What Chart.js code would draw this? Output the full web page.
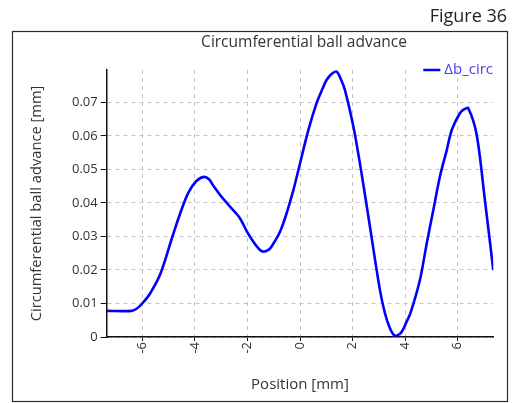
<!DOCTYPE html>
<html>
<head>
<meta charset="utf-8">
<style>
  html, body { margin: 0; padding: 0; background: #ffffff; }
  #wrap { position: relative; width: 523px; height: 403px; }
</style>
<script src="https://cdn.jsdelivr.net/npm/chart.js@4/dist/chart.umd.min.js"></script>
</head>
<body>
<div id="wrap"><canvas id="c" width="523" height="403"></canvas></div>
<script>
// Position along the raceway [mm]
const positions = [
  -7.35, -6.40, -6.20, -6.00, -5.70, -5.30, -4.85, -4.55, -4.25, -3.95,
  -3.65, -3.45, -3.30, -3.00, -2.66, -2.28, -2.00, -1.78, -1.55, -1.40,
  -1.20, -1.08, -0.76, -0.51, -0.25, 0.00, 0.32, 0.63, 0.85, 1.01,
  1.20, 1.39, 1.55, 1.71, 2.03, 2.34, 2.66, 3.04, 3.23, 3.40,
  3.57, 3.70, 3.87, 4.05, 4.20, 4.56, 4.82, 5.07, 5.32, 5.58,
  5.77, 6.08, 6.25, 6.40, 6.72, 7.03, 7.35
];
// Circumferential ball advance Δb_circ [mm]
const advance = [
  0.0078, 0.0078, 0.0085, 0.0100, 0.0130, 0.0190, 0.0300, 0.0370, 0.0430, 0.0465,
  0.0478, 0.0470, 0.0452, 0.0420, 0.0389, 0.0354, 0.0312, 0.0285, 0.0262, 0.0255,
  0.0260, 0.0270, 0.0314, 0.0369, 0.0439, 0.0518, 0.0618, 0.0698, 0.0740, 0.0767,
  0.0785, 0.0792, 0.0770, 0.0737, 0.0628, 0.0489, 0.0329, 0.0140, 0.0071, 0.0030,
  0.0006, 0.0005, 0.0016, 0.0045, 0.0071, 0.0170, 0.0280, 0.0379, 0.0479, 0.0558,
  0.0618, 0.0668, 0.0680, 0.0683, 0.0603, 0.0409, 0.0200
];
const seriesName = 'Δb_circ';
const chartTitle = 'Circumferential ball advance';
const xTitle = 'Position [mm]';
const yTitle = 'Circumferential ball advance [mm]';
const figureLabel = 'Figure 36';

const FONT = '"Open Sans", "DejaVu Sans", sans-serif';
const TEXT = '#333333';
const GRID = '#c4c4c4';

// Frame, figure caption, plot title and in-plot legend
const decorations = {
  id: 'decorations',
  beforeDraw(chart) {
    const ctx = chart.ctx;
    const area = chart.chartArea;
    ctx.save();
    ctx.fillStyle = '#ffffff';
    ctx.fillRect(0, 0, chart.width, chart.height);
    ctx.strokeStyle = '#2a2a2a';
    ctx.lineWidth = 1.2;
    ctx.strokeRect(12.5, 31.5, 495, 370);
    ctx.fillStyle = '#222222';
    ctx.font = '18px ' + FONT;
    ctx.textAlign = 'right';
    ctx.textBaseline = 'alphabetic';
    ctx.fillText(figureLabel, 507, 22);
    ctx.fillStyle = TEXT;
    ctx.font = '15.5px ' + FONT;
    ctx.textAlign = 'center';
    ctx.textBaseline = 'middle';
    ctx.fillText(chartTitle, (area.left + area.right) / 2 + 4, 43);
    ctx.restore();
  },
  afterDraw(chart) {
    const ctx = chart.ctx;
    const area = chart.chartArea;
    const ds = chart.data.datasets[0];
    ctx.save();
    ctx.font = '15px ' + FONT;
    const tx = area.right - 49;
    const ly = area.top;
    ctx.strokeStyle = ds.borderColor;
    ctx.lineWidth = 2.5;
    ctx.beginPath();
    ctx.moveTo(tx - 21, ly);
    ctx.lineTo(tx - 4, ly);
    ctx.stroke();
    ctx.fillStyle = '#4a3cf5';
    ctx.textAlign = 'left';
    ctx.textBaseline = 'middle';
    ctx.fillText(ds.label, tx, ly);
    ctx.restore();
  }
};

new Chart(document.getElementById('c'), {
  type: 'line',
  data: {
    datasets: [{
      label: seriesName,
      data: positions.map((x, i) => ({ x: x, y: advance[i] })),
      borderColor: '#0000ff',
      borderWidth: 2.6,
      pointRadius: 0,
      tension: 0.3,
      fill: false
    }]
  },
  options: {
    responsive: false,
    animation: false,
    devicePixelRatio: 1,
    layout: { padding: { left: 13, right: 29.7, top: 70, bottom: 2 } },
    plugins: {
      legend: { display: false },
      tooltip: { enabled: false },
      title: { display: false }
    },
    scales: {
      x: {
        type: 'linear',
        min: -7.35,
        max: 7.35,
        afterFit(scale) { scale.height = 64; },
        border: { color: '#111111', width: 1.5, dash: [4, 4] },
        grid: {
          color: GRID,
          tickColor: '#111111',
          lineWidth: 1,
          tickBorderDash: [],
          tickLength: 4,
          drawOnChartArea: true
        },
        ticks: {
          stepSize: 2,
          includeBounds: false,
          minRotation: 90,
          maxRotation: 90,
          padding: 1,
          color: TEXT,
          font: { family: FONT, size: 13 },
          callback: v => String(v)
        },
        title: {
          display: true,
          text: xTitle,
          color: TEXT,
          font: { family: FONT, size: 15, lineHeight: 1.2 },
          padding: { top: 0, bottom: 7 }
        }
      },
      y: {
        type: 'linear',
        min: 0,
        max: 0.0797,
        afterFit(scale) { scale.width = 93.7; },
        border: { color: '#111111', width: 1.5, dash: [4, 4] },
        grid: {
          color: GRID,
          tickColor: '#111111',
          lineWidth: 1,
          tickBorderDash: [],
          tickLength: 6,
          drawOnChartArea: true
        },
        ticks: {
          stepSize: 0.01,
          includeBounds: false,
          padding: 3,
          color: TEXT,
          font: { family: FONT, size: 13 },
          callback: v => (Math.abs(v) < 1e-9 ? '0' : v.toFixed(2))
        },
        title: {
          display: true,
          text: yTitle,
          color: TEXT,
          font: { family: FONT, size: 14.7, lineHeight: 1.2 },
          padding: { top: 15, bottom: 0 }
        }
      }
    }
  },
  plugins: [decorations]
});
</script>
</body>
</html>
